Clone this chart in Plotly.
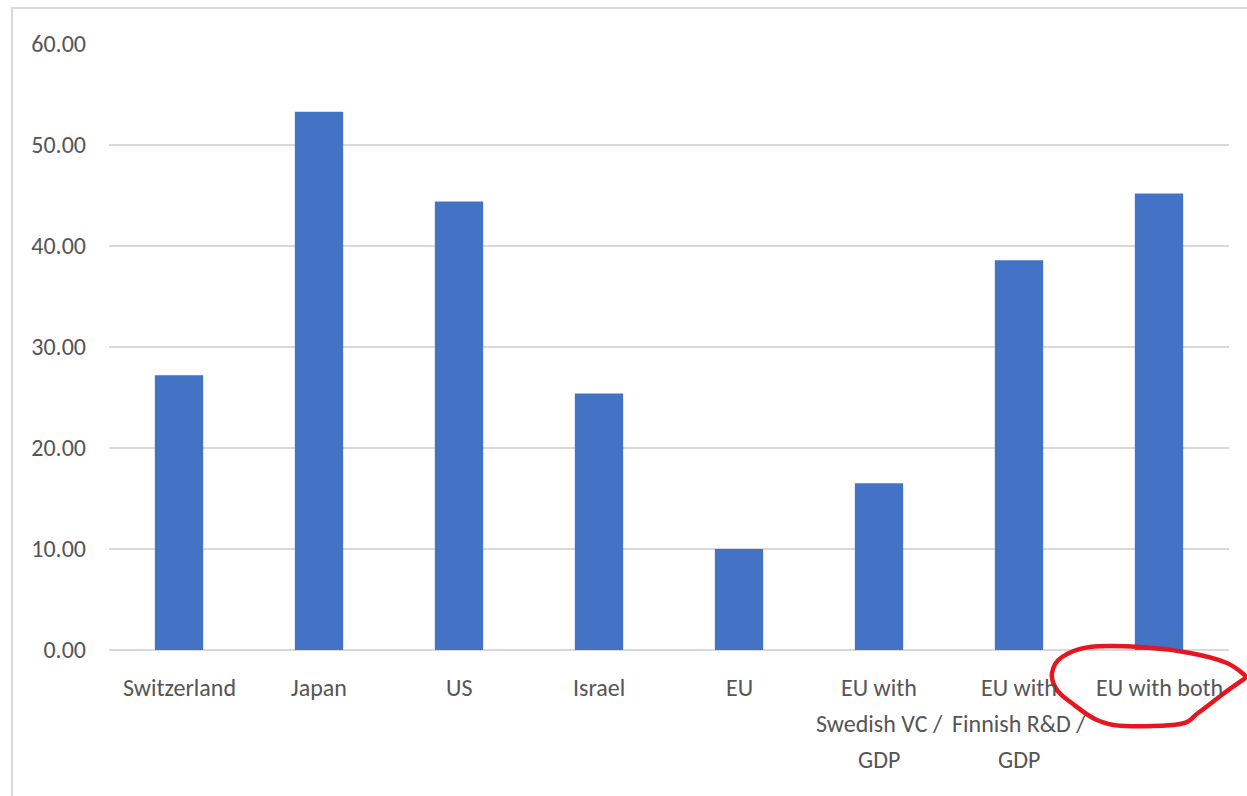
import plotly.graph_objects as go

categories = ["Switzerland", "Japan", "US", "Israel", "EU",
              "EU with Swedish VC / GDP", "EU with Finnish R&D / GDP", "EU with both"]
label_lines = [["Switzerland"], ["Japan"], ["US"], ["Israel"], ["EU"],
               ["EU with", "Swedish VC /", "GDP"], ["EU with", "Finnish R&D /", "GDP"],
               ["EU with both"]]
values = [27.2, 53.3, 44.4, 25.4, 10.0, 16.5, 38.6, 45.2]
y_ticks = [0, 10, 20, 30, 40, 50, 60]
y_ticktext = ["0.00", "10.00", "20.00", "30.00", "40.00", "50.00", "60.00"]

W, H = 1247, 796
L, R, T, B = 109, 18, 44, 146
PW, PH = W - L - R, H - T - B

def px(x):
    return (x - L) / PW

def py(y):
    return (H - B - y) / PH

FONT = "Carlito, Calibri, Lato, sans-serif"
TXT = "#555555"

fig = go.Figure()
fig.add_trace(go.Bar(x=categories, y=values, marker=dict(color="#4472C4", line=dict(width=0)),
                     width=0.345, hoverinfo="x+y"))

annotations = []
for cat, lines in zip(categories, label_lines):
    for i, ln in enumerate(lines):
        annotations.append(dict(x=cat, y=0, xref="x", yref="paper", text=ln, showarrow=False,
                                yanchor="middle", xanchor="center", yshift=-37 - 36 * i,
                                font=dict(family=FONT, size=24, color=TXT)))

# hand-drawn red ellipse (pixel coordinates of the sketch)
pts = [(1247, 677), (1227, 663), (1190, 653), (1140, 647), (1090, 647), (1062, 657),
       (1052, 673), (1057, 690), (1073, 704), (1097, 720), (1125, 726), (1180, 724),
       (1198, 713), (1223, 694), (1247, 677)]
P = [(px(x), py(y)) for x, y in pts]
d = f"M {P[0][0]},{P[0][1]}"
for i in range(len(P) - 1):
    p0 = P[i - 1] if i > 0 else P[i]
    p1, p2 = P[i], P[i + 1]
    p3 = P[i + 2] if i + 2 < len(P) else P[i + 1]
    c1 = (p1[0] + (p2[0] - p0[0]) / 6, p1[1] + (p2[1] - p0[1]) / 6)
    c2 = (p2[0] - (p3[0] - p1[0]) / 6, p2[1] - (p3[1] - p1[1]) / 6)
    d += f" C {c1[0]},{c1[1]} {c2[0]},{c2[1]} {p2[0]},{p2[1]}"

shapes = [
    dict(type="rect", xref="paper", yref="paper", x0=px(12), x1=px(1260), y0=py(820), y1=py(8),
         line=dict(color="#d9d9d9", width=2), fillcolor="rgba(0,0,0,0)", layer="below"),
    dict(type="path", xref="paper", yref="paper", path=d,
         line=dict(color="#E8141E", width=4.5)),
]

fig.update_layout(
    width=W, height=H,
    margin=dict(l=L, r=R, t=T, b=B, pad=0),
    paper_bgcolor="white", plot_bgcolor="white",
    showlegend=False,
    bargap=0.655,
    xaxis=dict(showticklabels=False, showgrid=False, showline=False, zeroline=False, ticks=""),
    yaxis=dict(range=[0, 60], tickvals=y_ticks, ticktext=y_ticktext,
               showgrid=True, gridcolor="#d9d9d9", gridwidth=1.5,
               zeroline=True, zerolinecolor="#d9d9d9", zerolinewidth=1.5,
               showline=False, ticks="", ticklabelstandoff=22,
               tickfont=dict(family=FONT, size=24, color=TXT)),
    annotations=annotations,
    shapes=shapes,
)

fig.write_html("out.html")
